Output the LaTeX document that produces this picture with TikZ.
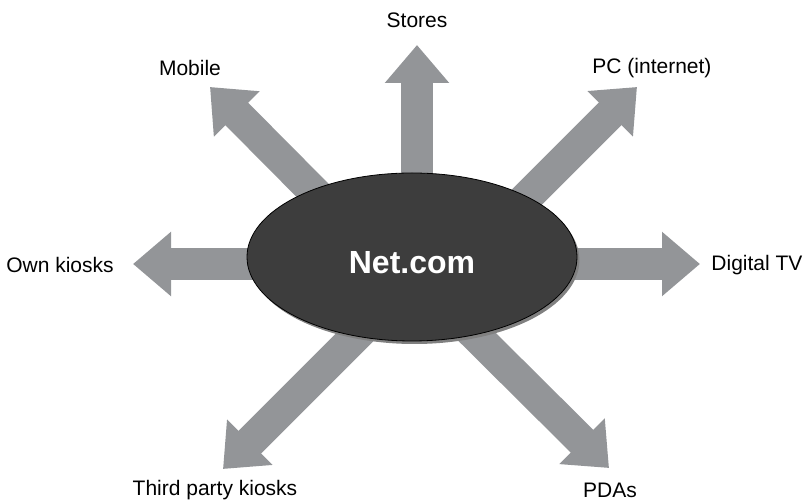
\documentclass[tikz,border=0pt]{standalone}
\usepackage{fontspec}
\setmainfont{Liberation Sans}
\usepackage{tikz}
\usetikzlibrary{arrows.meta, shapes.geometric, shadows}

\definecolor{arrowgray}{RGB}{147,149,152}
\definecolor{hubgray}{RGB}{61,61,61}

\begin{document}
\begin{tikzpicture}[
    x=0.5pt, y=-0.5pt,
    hub/.style={ellipse, draw=black, line width=0.4pt, fill=hubgray, minimum width=165pt, minimum height=84pt, inner sep=0pt, text height=17pt, text depth=0pt, text=white, font=\fontsize{16}{19}\selectfont\bfseries, drop shadow={shadow xshift=1.2pt, shadow yshift=-1.5pt, fill=black!50, opacity=1}},
    channel/.style={font=\fontsize{10.5}{12}\selectfont, inner sep=1pt},
    fatarrow/.style={color=arrowgray, line width=16pt, -{Triangle[width=31pt, length=19pt]}},
]
\useasboundingbox (0,0) rectangle (810,501);

% ===== Arrow ends (starts hidden behind the hub) =====
\coordinate (sStores) at (417,200);
\coordinate (tStores) at (417,45);
\coordinate (sPC) at (493,231);
\coordinate (tPC) at (637,87);
\coordinate (sTV) at (520,264);
\coordinate (tTV) at (700,264);
\coordinate (sPDA) at (455,315);
\coordinate (tPDA) at (609,468);
\coordinate (sThird) at (377,315);
\coordinate (tThird) at (223,469);
\coordinate (sOwn) at (300,264);
\coordinate (tOwn) at (133,264);
\coordinate (sMobile) at (341,219);
\coordinate (tMobile) at (210,87);

% ===== Arrows =====
\draw[fatarrow] (sStores) -- (tStores);
\draw[fatarrow] (sPC) -- (tPC);
\draw[fatarrow] (sTV) -- (tTV);
\draw[fatarrow] (sPDA) -- (tPDA);
\draw[fatarrow] (sThird) -- (tThird);
\draw[fatarrow] (sOwn) -- (tOwn);
\draw[fatarrow] (sMobile) -- (tMobile);

% ===== Hub =====
\node[hub] (net) at (412,257) {Net.com};

% ===== Channels =====
\node[channel] (stores) at (417,20) {Stores};
\node[channel] (pc) at (652,68) {PC (internet)};
\node[channel] (tv) at (757,265) {Digital TV};
\node[channel] (pdas) at (610,490) {PDAs};
\node[channel] (third) at (215,490) {Third party kiosks};
\node[channel] (own) at (60,265) {Own kiosks};
\node[channel] (mobile) at (190,68) {Mobile};

\end{tikzpicture}
\end{document}
